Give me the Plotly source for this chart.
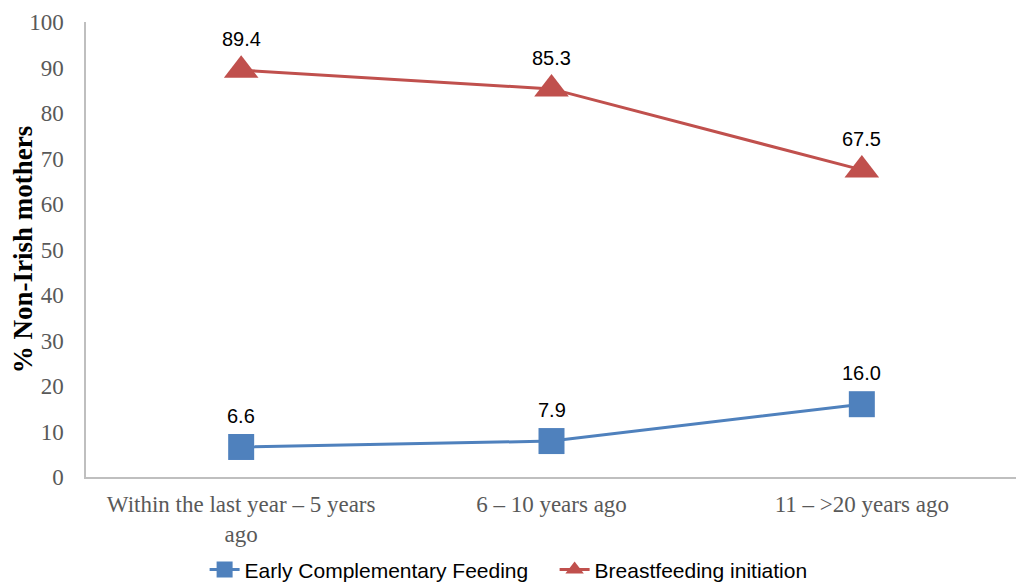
import plotly.graph_objects as go

categories = ["Within the last year – 5 years<br>ago", "6 – 10 years ago", "11 – >20 years ago"]
early_cf = [6.6, 7.9, 16.0]
bf_init = [89.4, 85.3, 67.5]
y_ticks = [0, 10, 20, 30, 40, 50, 60, 70, 80, 90, 100]
y_title = "% Non-Irish mothers"

blue = "#4F81BD"
red = "#C0504D"

fig = go.Figure()
fig.add_trace(go.Scatter(
    x=categories, y=early_cf, mode="lines+markers", name="Early Complementary Feeding",
    line=dict(color=blue, width=3), marker=dict(symbol="square", size=26, color=blue),
))
fig.add_trace(go.Scatter(
    x=categories, y=bf_init, mode="lines+markers", name="Breastfeeding initiation",
    line=dict(color=red, width=3), marker=dict(symbol="triangle-up", size=30, color=red),
))

for series in (early_cf, bf_init):
    for c, v in zip(categories, series):
        fig.add_annotation(x=c, y=v, text=f"{v:.1f}", showarrow=False, yshift=31,
                           font=dict(family="Liberation Sans, Arial", size=20, color="black"))

fig.update_layout(
    width=1024, height=587,
    margin=dict(l=78, r=15, t=14, b=118),
    paper_bgcolor="white", plot_bgcolor="white",
    showlegend=True,
    legend=dict(orientation="h", xref="container", yref="container",
                x=0.192, xanchor="left", y=0.043, yanchor="middle",
                entrywidth=305, entrywidthmode="pixels",
                font=dict(family="Liberation Sans, Arial", size=21, color="black"),
                itemwidth=30),
    xaxis=dict(
        range=[-0.5, 2.5], showline=True, linecolor="#bfbfbf", linewidth=1.5,
        ticks="", showgrid=False, zeroline=False, automargin=False, ticklabelstandoff=6,
        tickfont=dict(family="Liberation Serif, Times New Roman", size=23, color="#595959"),
    ),
    yaxis=dict(
        range=[0, 100], tickvals=y_ticks, showline=True, linecolor="#bfbfbf", linewidth=1.5,
        ticks="", showgrid=False, zeroline=False, automargin=False, ticklabelstandoff=16,
        tickfont=dict(family="Liberation Serif, Times New Roman", size=23, color="#595959"),
        title=dict(text=y_title, standoff=0,
                   font=dict(family="Liberation Serif, Times New Roman", size=27,
                             color="black", weight="bold")),
    ),
)

fig.write_html("out.html")
